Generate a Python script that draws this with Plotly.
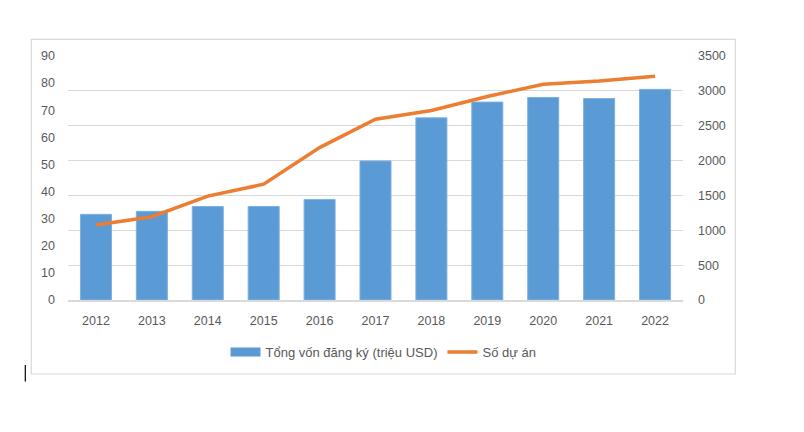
import plotly.graph_objects as go

years = ["2012", "2013", "2014", "2015", "2016", "2017", "2018", "2019", "2020", "2021", "2022"]
von_dang_ky = [31.6, 32.7, 34.5, 34.5, 37.1, 51.3, 67.2, 73.0, 74.7, 74.3, 77.7]
so_du_an = [1076, 1194, 1490, 1661, 2186, 2594, 2719, 2919, 3095, 3140, 3209]
left_ticks = [0, 10, 20, 30, 40, 50, 60, 70, 80, 90]
right_ticks = [0, 500, 1000, 1500, 2000, 2500, 3000, 3500]

FONT = "Liberation Sans"
TICK_COLOR = "#595959"
BAR_COLOR = "#5B9BD5"
LINE_COLOR = "#ED7D31"

fig = go.Figure()
fig.add_trace(go.Bar(
    x=years, y=von_dang_ky, name="Tổng vốn đăng ký (triệu USD)",
    marker=dict(color=BAR_COLOR, line=dict(color="#7FB0DE", width=1)),
    yaxis="y", showlegend=False, legendgroup="von",
))
# legend entry for the bars: wide rectangle like the original
fig.add_trace(go.Scatter(
    x=[years[0]], y=[None], name="Tổng vốn đăng ký (triệu USD)", mode="lines",
    line=dict(color=BAR_COLOR, width=9), yaxis="y", legendgroup="von",
    hoverinfo="skip",
))
fig.add_trace(go.Scatter(
    x=years, y=so_du_an, name="Số dự án", mode="lines",
    line=dict(color=LINE_COLOR, width=3.5),
    yaxis="y2",
))

fig.update_layout(
    width=804, height=432,
    margin=dict(l=68, r=121, t=56, b=132),
    paper_bgcolor="white", plot_bgcolor="white",
    bargap=0.445,
    font=dict(family=FONT, size=12, color=TICK_COLOR),
    xaxis=dict(
        type="category", showgrid=False, showline=True, linecolor="#d9d9d9", linewidth=2,
        ticks="", tickfont=dict(size=12.5, color=TICK_COLOR), ticklabelstandoff=8,
    ),
    yaxis=dict(
        range=[0, 90], tickvals=left_ticks, showgrid=False, zeroline=False,
        showline=False, ticks="", tickfont=dict(size=12.5, color=TICK_COLOR),
        ticklabelstandoff=12,
    ),
    yaxis2=dict(
        range=[0, 3500], tickvals=right_ticks, overlaying="y", side="right",
        showgrid=True, gridcolor="#d9d9d9", gridwidth=1, zeroline=False,
        showline=False, ticks="", tickfont=dict(size=12.5, color=TICK_COLOR),
        ticklabelstandoff=14,
    ),
    legend=dict(
        orientation="h", x=0.513, y=-0.213, xanchor="center", yanchor="middle",
        font=dict(size=13, color=TICK_COLOR), bgcolor="rgba(0,0,0,0)",
        itemwidth=30, traceorder="normal",
    ),
    showlegend=True,
)

# chart-area border
fig.add_shape(type="rect", xref="paper", yref="paper",
              x0=(31.3 - 68) / 615, x1=(735.3 - 68) / 615,
              y0=(300 - 374) / 244, y1=(300 - 39.3) / 244,
              line=dict(color="#d9d9d9", width=1.2), fillcolor="rgba(0,0,0,0)", layer="below")
# text cursor artifact
fig.add_shape(type="line", xref="paper", yref="paper",
              x0=(25.3 - 68) / 615, x1=(25.3 - 68) / 615,
              y0=(300 - 381.5) / 244, y1=(300 - 365) / 244,
              line=dict(color="black", width=1.2))

fig.write_html("out.html")
